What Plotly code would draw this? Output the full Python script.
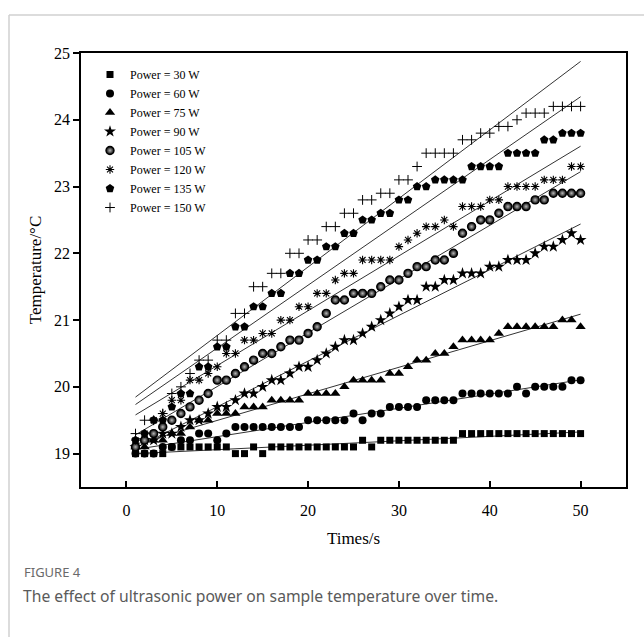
import numpy as np
import plotly.graph_objects as go

time_s = list(range(1, 51))

series_names = ["Power = 30 W", "Power = 60 W", "Power = 75 W", "Power = 90 W",
                "Power = 105 W", "Power = 120 W", "Power = 135 W", "Power = 150 W"]

temp_30w = [19.0]*4 + [19.1]*7 + [19.0, 19.0, 19.1, 19.0] + [19.1]*10 + [19.2, 19.1] + [19.2]*9 + [19.3]*14
temp_60w = ([19.0]*3 + [19.1, 19.1, 19.2, 19.2, 19.3, 19.3, 19.2, 19.3] + [19.4]*8 + [19.5]*5
            + [19.6, 19.5, 19.6, 19.6] + [19.7]*4 + [19.8]*4 + [19.9]*6 + [20.0, 19.9] + [20.0]*4 + [20.1]*2)
temp_75w = ([19.1, 19.1, 19.2, 19.2, 19.3, 19.3, 19.4, 19.5, 19.5, 19.6, 19.6, 19.6, 19.7, 19.7, 19.7]
            + [19.8]*4 + [19.9]*4 + [20.0] + [20.1]*4 + [20.2]*2 + [20.3] + [20.4]*2 + [20.5]*2
            + [20.6] + [20.7]*4 + [20.8] + [20.9]*6 + [21.0]*2 + [20.9])
temp_90w = ([19.1, 19.2, 19.2, 19.3, 19.3, 19.4, 19.5, 19.5, 19.6, 19.7, 19.7, 19.8, 19.9, 19.9, 20.0]
            + [20.1]*2 + [20.2] + [20.3]*2 + [20.4, 20.5, 20.6] + [20.7]*2 + [20.8, 20.9, 21.0, 21.1, 21.2]
            + [21.3]*2 + [21.5]*2 + [21.6]*2 + [21.7]*3 + [21.8]*2 + [21.9]*3 + [22.0] + [22.1]*2
            + [22.2, 22.3, 22.2])
temp_105w = ([19.1, 19.2, 19.3, 19.4, 19.5, 19.6, 19.7, 19.8, 19.9] + [20.1]*2 + [20.2, 20.3, 20.4]
             + [20.5]*2 + [20.6] + [20.7]*2 + [20.8, 20.9, 21.1] + [21.3]*2 + [21.4]*3 + [21.5]
             + [21.6]*2 + [21.7] + [21.8]*2 + [21.9]*2 + [22.0, 22.3, 22.4] + [22.5]*2 + [22.6]
             + [22.7]*3 + [22.8]*2 + [22.9]*4)
temp_120w = ([19.2, 19.3, 19.5, 19.6, 19.8, 19.8, 20.1, 20.1, 20.2, 20.3] + [20.5]*2 + [20.7]*2
             + [20.8]*2 + [21.0]*2 + [21.2]*2 + [21.4]*2 + [21.6] + [21.7]*2 + [21.9]*4
             + [22.1, 22.2, 22.3] + [22.4]*2 + [22.5, 22.4] + [22.7]*3 + [22.8]*2 + [23.0]*4
             + [23.1]*3 + [23.3]*2)
temp_135w = ([19.2, 19.3, 19.5, 19.5, 19.7] + [19.9]*2 + [20.3]*2 + [20.6]*2 + [20.9]*2 + [21.2]*2
             + [21.4]*2 + [21.7]*2 + [21.9]*2 + [22.1]*2 + [22.3]*2 + [22.5]*2 + [22.6]*2 + [22.8]*2
             + [23.0]*2 + [23.1]*4 + [23.3]*4 + [23.5]*4 + [23.7]*2 + [23.8]*3)
temp_150w = ([19.3, 19.5, 19.5, 19.6, 19.9, 20.0, 20.2] + [20.4]*2 + [20.7]*2 + [21.1]*2 + [21.5]*2
             + [21.7]*2 + [22.0]*2 + [22.2]*2 + [22.4]*2 + [22.6]*2 + [22.8]*2 + [22.9]*2 + [23.1]*2
             + [23.3] + [23.5]*4 + [23.7]*2 + [23.8]*2 + [23.9]*2 + [24.0] + [24.1]*3 + [24.2]*4)

all_temps = [temp_30w, temp_60w, temp_75w, temp_90w, temp_105w, temp_120w, temp_135w, temp_150w]

marker_styles = [
    dict(symbol="square", size=7, color="black"),
    dict(symbol="circle", size=8, color="black"),
    dict(symbol="triangle-up", size=9, color="black"),
    dict(symbol="star", size=9, color="black"),
    dict(symbol="circle", size=8, color="black", gradient=dict(type="radial", color="#b8b8b8"),
         line=dict(color="black", width=1.4)),
    dict(symbol="asterisk-open", size=7, color="black", line=dict(color="black", width=1.1)),
    dict(symbol="pentagon", size=9, color="black"),
    dict(symbol="cross-thin-open", size=7, color="black", line=dict(color="black", width=1)),
]

FONT = "Liberation Serif"
fig = go.Figure()

t = np.array(time_s, dtype=float)
for temps in all_temps:
    k, b = np.polyfit(t, np.array(temps), 1)
    xs = [t[0], t[-1]]
    fig.add_trace(go.Scatter(x=xs, y=[k * xv + b for xv in xs], mode="lines",
                             line=dict(color="#333333", width=1), showlegend=False, hoverinfo="skip"))

for name, temps, ms in zip(series_names, all_temps, marker_styles):
    fig.add_trace(go.Scatter(x=time_s, y=temps, mode="markers", name=name, marker=ms))

W, H = 644, 637
L, R, T, B = 81, 18, 53, 150
pw, ph = W - L - R, H - T - B

def px(x):
    return (x - L) / pw

def py(y):
    return 1 - (y - T) / ph

fig.update_layout(
    width=W, height=H,
    margin=dict(l=L, r=R, t=T, b=B),
    paper_bgcolor="white", plot_bgcolor="white",
    font=dict(family=FONT, color="black", size=16),
    showlegend=True,
    legend=dict(x=px(90), y=py(60), xanchor="left", yanchor="top",
                bgcolor="rgba(0,0,0,0)", font=dict(family=FONT, size=12, color="black"),
                tracegroupgap=0, itemwidth=30),
    xaxis=dict(range=[-5, 55], tickvals=[0, 10, 20, 30, 40, 50], ticks="inside", ticklen=6,
               tickwidth=1.5, tickcolor="black", showline=True, linewidth=1.8, linecolor="black",
               mirror=True, showgrid=False, zeroline=False, ticklabelstandoff=8,
               tickfont=dict(family=FONT, size=16),
               title=dict(text="Times/s", font=dict(family=FONT, size=17), standoff=14)),
    yaxis=dict(range=[18.5, 25.0001], tickvals=[19, 20, 21, 22, 23, 24, 25], ticks="outside", ticklen=6,
               tickwidth=1.5, tickcolor="black", showline=True, linewidth=1.8, linecolor="black",
               mirror=True, showgrid=False, zeroline=False,
               tickfont=dict(family=FONT, size=16),
               title=dict(text="Temperature/°C", font=dict(family=FONT, size=17), standoff=8)),
    shapes=[
        dict(type="line", xref="paper", yref="paper", x0=px(9), x1=px(650), y0=py(15), y1=py(15),
             line=dict(color="#d0d0d0", width=1.5)),
        dict(type="line", xref="paper", yref="paper", x0=px(9), x1=px(9), y0=py(15), y1=py(640),
             line=dict(color="#d0d0d0", width=1.5)),
    ],
    annotations=[
        dict(text="FIGURE 4", xref="paper", yref="paper", x=px(22), y=py(572), xanchor="left",
             yanchor="middle", showarrow=False, font=dict(family="Noto Sans", size=13, color="#6a6a6a")),
        dict(text="The effect of ultrasonic power on sample temperature over time.", xref="paper",
             yref="paper", x=px(21), y=py(596), xanchor="left", yanchor="middle", showarrow=False,
             font=dict(family="Noto Sans", size=15.7, color="#5a5a5a")),
    ],
)

fig.write_html("out.html", config={"displayModeBar": False},
               post_script="document.body.style.margin='0';")
